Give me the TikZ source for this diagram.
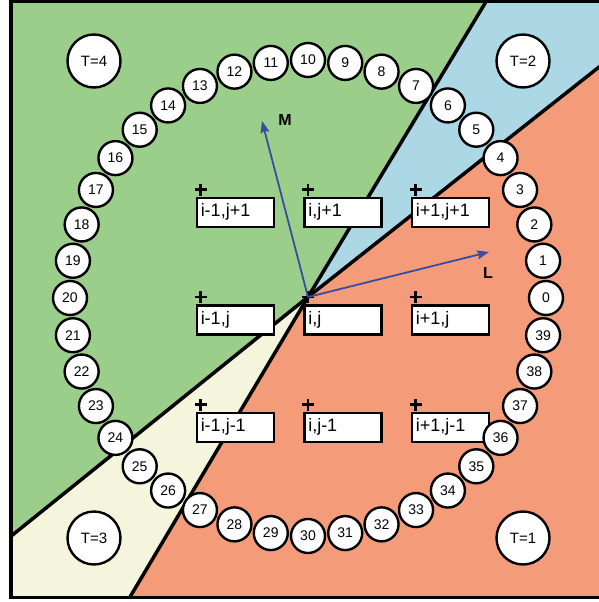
\documentclass[tikz,border=0pt]{standalone}
\usepackage{fontspec}
\setmainfont{Liberation Sans}
\usetikzlibrary{arrows.meta}
\definecolor{regGreen}{RGB}{155,206,138}
\definecolor{regBlue}{RGB}{172,216,230}
\definecolor{regOrange}{RGB}{244,155,122}
\definecolor{regCream}{RGB}{245,244,220}
\definecolor{arrBlue}{RGB}{58,76,162}
\begin{document}
\begin{tikzpicture}[x=1pt,y=-1pt,
  ring/.style={circle,draw=black,fill=white,line width=2.4pt,minimum size=34pt,inner sep=0pt,font=\fontsize{14}{14}\selectfont},
  tnode/.style={circle,draw=black,fill=white,line width=2.4pt,minimum size=53pt,inner sep=0pt,font=\fontsize{15}{16}\selectfont},
  cellbox/.style={draw=black,fill=white,line width=2.5pt,minimum width=77pt,minimum height=29pt,inner xsep=4pt,inner ysep=0pt,text width=69pt,align=left,anchor=north west,font=\fontsize{18}{18}\selectfont},
  border/.style={line width=3.5pt,line join=miter},
  arr/.style={arrBlue,line width=1.8pt,-{Stealth[length=12pt,width=9pt,inset=2pt]}},
  lab/.style={font=\bfseries\fontsize{16}{16}\selectfont,inner sep=0pt},
  plusmark/.style={line width=2.5pt}
]
\useasboundingbox (0,0) rectangle (599,602);
\clip (0,0) rectangle (599,602);
\fill[white] (0,0) rectangle (599,602);
\coordinate (c) at (308,297);
\coordinate (ea) at (522.8,-59.4);
\coordinate (eb) at (700,-12.8);
\coordinate (ed) at (-49.6,585);
\coordinate (ee) at (94.4,657);
\begin{scope}
  \clip (11,1.5) rectangle (640,597.5);
  \fill[regOrange] (0,0) rectangle (640,620);
  \fill[regGreen] (c) -- (ea) -- (-49.6,-59.4) -- (ed) -- cycle;
  \fill[regBlue] (c) -- (ea) -- (700,-59.4) -- (eb) -- cycle;
  \fill[regCream] (c) -- (ed) -- (-49.6,657) -- (ee) -- cycle;
  \draw[border] (c) -- (ea);
  \draw[border] (c) -- (eb);
  \draw[border] (c) -- (ed);
  \draw[border] (c) -- (ee);
\end{scope}
\draw[border] (640,1.5) -- (11,1.5) -- (11,597.5) -- (640,597.5);
% grid cells
\foreach \gx/\gy/\nm/\txt in {200.5/189.5/bmp/{i-1,j+1}, 308/189.5/bzp/{i,j+1}, 415.5/189.5/bpp/{i+1,j+1},
  200.5/297/bmz/{i-1,j}, 308/297/bzz/{i,j}, 415.5/297/bpz/{i+1,j},
  200.5/404.5/bmm/{i-1,j-1}, 308/404.5/bzm/{i,j-1}, 415.5/404.5/bpm/{i+1,j-1}}{
  \node[cellbox] (\nm) at (\gx-5,\gy+7) {\txt};
  \draw[plusmark] (\gx-6,\gy) -- (\gx+6,\gy) (\gx,\gy-6) -- (\gx,\gy+6);
}
% arrows
\coordinate (mtip) at (262,121);
\coordinate (ltip) at (489,252);
\draw[arr] (c) -- (mtip);
\draw[arr] (c) -- (ltip);
\node[lab] (mlab) at (285,120) {M};
\node[lab] (llab) at (488,273) {L};
% ring
\foreach \k in {0,...,39}{
  \node[ring] (n\k) at ({308+238*cos(9*\k)},{298-238*sin(9*\k)}) {\k};
}
% T nodes
\node[tnode] (t4) at (94,61) {T=4};
\node[tnode] (t2) at (523,61) {T=2};
\node[tnode] (t3) at (94,538) {T=3};
\node[tnode] (t1) at (523,538) {T=1};
\end{tikzpicture}
\end{document}
